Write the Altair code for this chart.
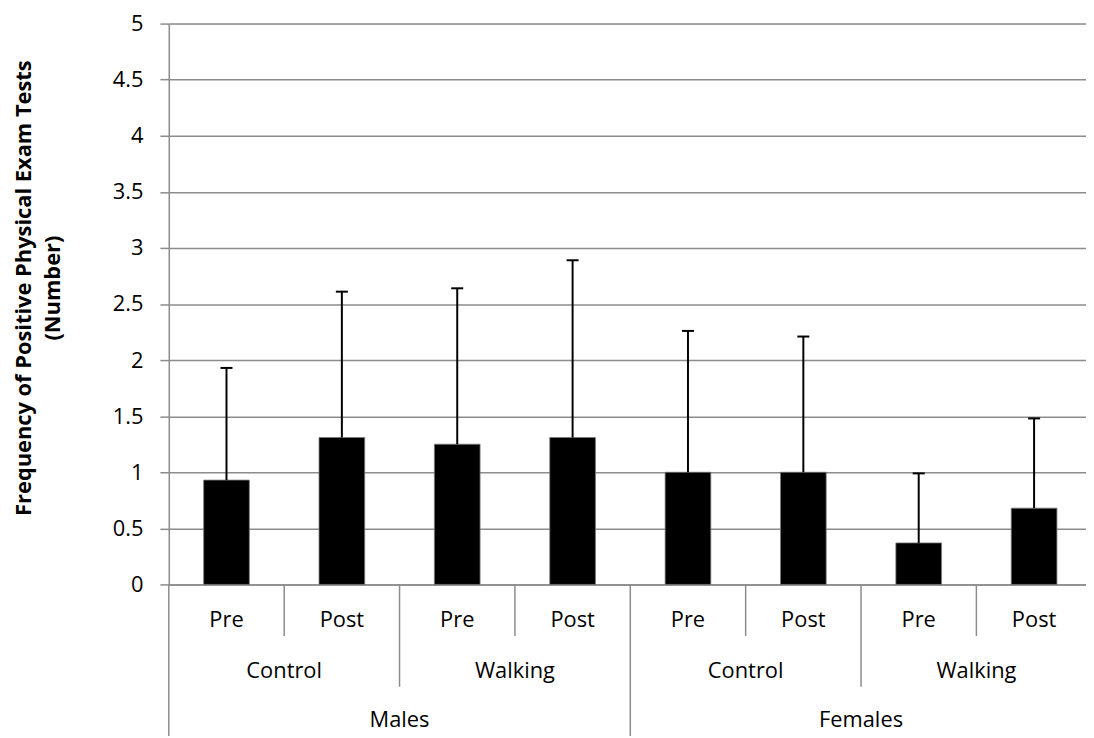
import altair as alt
import pandas as pd

# ---- data ----
sexes = ["Males", "Females"]
groups = ["Control", "Walking"]
times = ["Pre", "Post"]
means = [0.93, 1.31, 1.25, 1.31, 1.00, 1.00, 0.37, 0.68]
uppers = [1.93, 2.61, 2.64, 2.89, 2.26, 2.21, 0.99, 1.48]
y_ticks = [0, 0.5, 1, 1.5, 2, 2.5, 3, 3.5, 4, 4.5, 5]

FONT = "Open Sans"
GRID = "#8c8c8c"

rows = []
i = 0
for s in sexes:
    for g in groups:
        for t in times:
            rows.append({"sex": s, "group": g, "time": t, "mean": means[i],
                         "upper": uppers[i], "pos": i + 0.5,
                         "bl": i + 0.5 - 0.198, "br": i + 0.5 + 0.198,
                         "cl": i + 0.5 - 0.052, "cr": i + 0.5 + 0.052})
            i += 1
df = pd.DataFrame(rows)

# group label positions
grp_rows = []
for si, s in enumerate(sexes):
    for gi, g in enumerate(groups):
        grp_rows.append({"label": g, "pos": si * 4 + gi * 2 + 1.0})
grp_df = pd.DataFrame(grp_rows)
sex_df = pd.DataFrame({"label": sexes, "pos": [2.0, 6.0]})

# separator lines in the hierarchical axis
sep_time = pd.DataFrame({"x": [1, 3, 5, 7]})
sep_group = pd.DataFrame({"x": [2, 6]})
sep_sex = pd.DataFrame({"x": [0, 4]})

H = 565
xscale = alt.Scale(domain=[0, 7.95], nice=False, zero=False)
yscale = alt.Scale(domain=[0, 5], nice=False)

base = alt.Chart(df)

bars = base.mark_bar(color="black", stroke="#7a7a7a", strokeWidth=0.8).encode(
    x=alt.X("bl:Q", scale=xscale,
            axis=alt.Axis(labels=False, ticks=False, grid=False, title=None,
                          domainColor=GRID, domainWidth=1.5)),
    x2="br:Q",
    y=alt.Y("mean:Q", scale=yscale,
            axis=alt.Axis(values=y_ticks, format="~g",
                          title=["Frequency of Positive Physical Exam Tests", "(Number)"],
                          titleFont=FONT, titleFontSize=22, titleFontWeight="bold",
                          titleColor="black", titleX=-134, titleY=266,
                          titleAngle=270, titleAlign="center", titleBaseline="bottom",
                          titleLineHeight=29,
                          labelFont=FONT, labelFontSize=22, labelColor="black",
                          labelPadding=17, tickSize=9, tickColor=GRID, tickWidth=1.5,
                          domainColor=GRID, domainWidth=1.5,
                          gridColor=GRID, gridWidth=1.5, gridOpacity=1)),
    y2=alt.Y2(datum=0),
)

err = base.mark_rule(color="black", strokeWidth=2).encode(
    x=alt.X("pos:Q", scale=xscale), y=alt.Y("mean:Q", scale=yscale), y2="upper:Q")
caps = base.mark_rule(color="black", strokeWidth=2).encode(
    x=alt.X("cl:Q", scale=xscale), x2="cr:Q", y=alt.Y("upper:Q", scale=yscale))

txt_kw = dict(font=FONT, fontSize=22, color="black", baseline="middle", align="center")
t_time = base.mark_text(**txt_kw).encode(
    x=alt.X("pos:Q", scale=xscale), y=alt.value(H + 36), text="time:N")
t_group = alt.Chart(grp_df).mark_text(**txt_kw).encode(
    x=alt.X("pos:Q", scale=xscale), y=alt.value(H + 87), text="label:N")
t_sex = alt.Chart(sex_df).mark_text(**txt_kw).encode(
    x=alt.X("pos:Q", scale=xscale), y=alt.value(H + 137), text="label:N")

rule_kw = dict(color=GRID, strokeWidth=1.5)
r_time = alt.Chart(sep_time).mark_rule(**rule_kw).encode(
    x=alt.X("x:Q", scale=xscale), y=alt.value(H), y2=alt.value(H + 52))
r_group = alt.Chart(sep_group).mark_rule(**rule_kw).encode(
    x=alt.X("x:Q", scale=xscale), y=alt.value(H), y2=alt.value(H + 103))
r_sex = alt.Chart(sep_sex).mark_rule(**rule_kw).encode(
    x=alt.X("x:Q", scale=xscale), y=alt.value(H), y2=alt.value(H + 160))

chart = alt.layer(bars, err, caps, r_time, r_group, r_sex, t_time, t_group, t_sex).properties(
    width=924, height=H,
    autosize=alt.AutoSizeParams(type="none"),
    padding={"left": 162, "top": 13, "right": 0, "bottom": 150},
).configure_view(stroke=None).configure(background="white")

chart.save("out.html", embed_options={"renderer": "svg", "actions": False})
